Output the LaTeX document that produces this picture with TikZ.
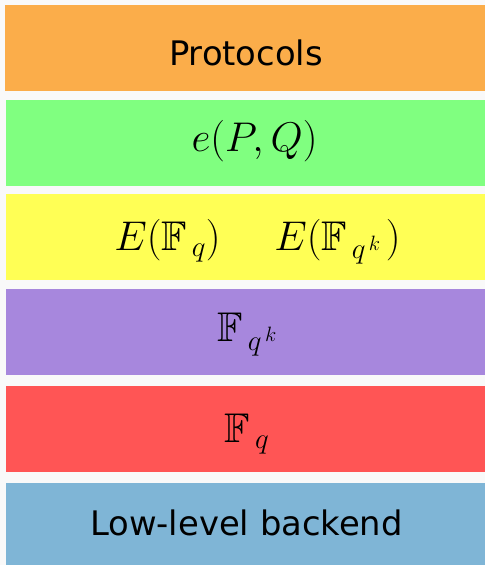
\documentclass[tikz,border=0pt]{standalone}
\usepackage{fix-cm}
\usepackage{amsmath,amssymb}
\usepackage{fontspec}
\newfontfamily\layerfont{DejaVu Sans}
\usetikzlibrary{positioning}

\definecolor{pagebg}{RGB}{249,249,249}
\definecolor{protocolcol}{RGB}{251,173,74}
\definecolor{pairingcol}{RGB}{128,255,128}
\definecolor{curvecol}{RGB}{255,255,85}
\definecolor{extcol}{RGB}{167,135,221}
\definecolor{basecol}{RGB}{255,85,85}
\definecolor{backendcol}{RGB}{127,181,214}

\tikzset{
  layertext/.style={anchor=base,inner sep=0pt,font=\layerfont\fontsize{33.8}{40}\selectfont},
  mathtext/.style={anchor=base,inner sep=0pt,font=\fontsize{41.5}{49}\selectfont}
}

\begin{document}
\begin{tikzpicture}[x=1pt,y=-1pt]
        \fill[pagebg] (0,0) rectangle (485,565);
        % layers, top to bottom
        \foreach \xa/\ya/\yb/\col in {5/5/91/protocolcol,6/100/186/pairingcol,6/194/279.5/curvecol,6/289/375/extcol,6/386/472/basecol,6/483/565/backendcol}
          \fill[\col] (\xa,\ya) rectangle (485,\yb);
        \node[layertext] (protocols) at (246,65) {Protocols};
        \node[mathtext] (pairing) at (254.5,151.5) {$e(P,Q)$};
        \node[mathtext] (curveq) at (167.5,250) {$E(\mathbb{F}_{\,q})$};
        \node[mathtext] (curveqk) at (337.5,250) {$E(\mathbb{F}_{\,q^{\,k}\,})$};
        \node[mathtext] (fieldqk) at (247.5,341.5) {$\mathbb{F}_{\,q^{\,k}}$};
        \node[mathtext] (fieldq) at (247,442) {$\mathbb{F}_{\,q}$};
        \node[layertext] (backend) at (246.5,535) {Low-level backend};
      \end{tikzpicture}
\end{document}
